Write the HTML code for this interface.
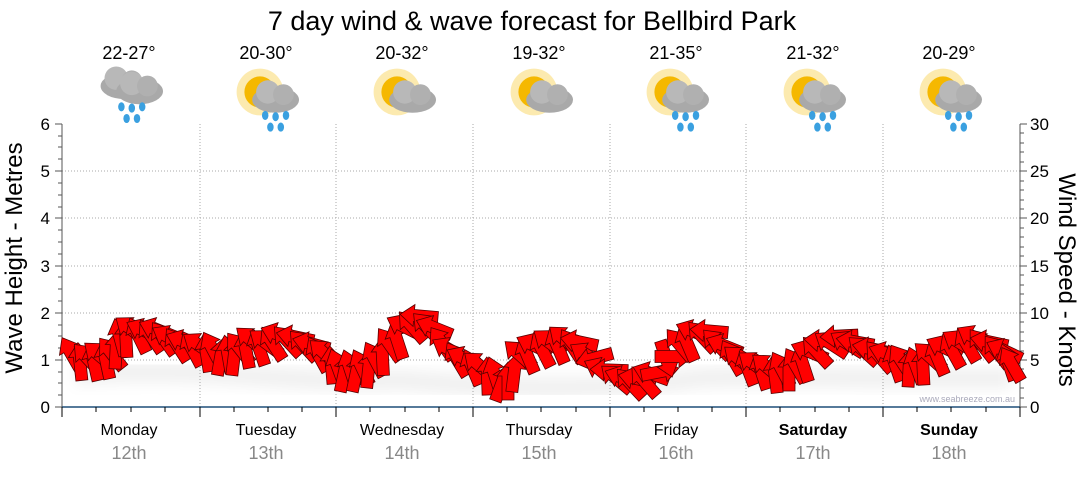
<!DOCTYPE html>
<html><head><meta charset="utf-8"><style>
body{margin:0;background:#fff;}
svg text{font-family:"Liberation Sans",sans-serif;}
</style></head><body>
<svg id="s" width="1080" height="475" viewBox="0 0 1080 475" xmlns="http://www.w3.org/2000/svg">
<defs>
<polygon id="ar" points="0,-20 11,-6 6,-6 6,18 -6,18 -6,-6 -11,-6" fill="#ff0000" stroke="#500" stroke-width="0.8"/>
<filter id="sh" x="-50%" y="-50%" width="200%" height="200%"><feGaussianBlur stdDeviation="7"/></filter>
<g id="cloud"><ellipse cx="0" cy="0" rx="18" ry="10" fill="#a9a9a9"/><circle cx="-6" cy="-6" r="9" fill="#b8b8b8"/><circle cx="6" cy="-4" r="8" fill="#b0b0b0"/></g>
<g id="sun"><circle r="18" fill="#f7c21a" opacity="0.35"/><circle r="12" fill="#f5b800"/></g>
<g id="drops" fill="#3aa0e0"><ellipse cx="-8" cy="0" rx="2.5" ry="3.5"/><ellipse cx="0" cy="1" rx="2.5" ry="3.5"/><ellipse cx="8" cy="0" rx="2.5" ry="3.5"/><ellipse cx="-4" cy="9" rx="2.5" ry="3.5"/><ellipse cx="4" cy="9" rx="2.5" ry="3.5"/></g>
</defs>
<text x="532" y="30" font-size="27" text-anchor="middle" fill="#000">7 day wind &amp; wave forecast for Bellbird Park</text>
<g font-size="18" text-anchor="middle" fill="#000">
<text x="129" y="59">22-27°</text><text x="266" y="59">20-30°</text><text x="402" y="59">20-32°</text><text x="539" y="59">19-32°</text><text x="676" y="59">21-35°</text><text x="813" y="59">21-32°</text><text x="949" y="59">20-29°</text>
</g>
<g transform="translate(124,86) scale(1.3)"><use href="#cloud"/><g transform="translate(12,4)"><use href="#cloud"/></g><g transform="translate(6,16)"><use href="#drops"/></g></g>
<g transform="translate(260,92) scale(1.3)"><use href="#sun"/><g transform="translate(12,6)"><use href="#cloud"/></g><g transform="translate(12,18)"><use href="#drops"/></g></g>
<g transform="translate(397,92) scale(1.3)"><use href="#sun"/><g transform="translate(12,6)"><use href="#cloud"/></g></g>
<g transform="translate(534,92) scale(1.3)"><use href="#sun"/><g transform="translate(12,6)"><use href="#cloud"/></g></g>
<g transform="translate(670,92) scale(1.3)"><use href="#sun"/><g transform="translate(12,6)"><use href="#cloud"/></g><g transform="translate(12,18)"><use href="#drops"/></g></g>
<g transform="translate(807,92) scale(1.3)"><use href="#sun"/><g transform="translate(12,6)"><use href="#cloud"/></g><g transform="translate(12,18)"><use href="#drops"/></g></g>
<g transform="translate(943,92) scale(1.3)"><use href="#sun"/><g transform="translate(12,6)"><use href="#cloud"/></g><g transform="translate(12,18)"><use href="#drops"/></g></g>
<g stroke="#aaa" stroke-dasharray="1,2" stroke-width="1">
<line x1="62" x2="1020" y1="360" y2="360"/><line x1="62" x2="1020" y1="313" y2="313"/><line x1="62" x2="1020" y1="266" y2="266"/><line x1="62" x2="1020" y1="218" y2="218"/><line x1="62" x2="1020" y1="171" y2="171"/>
<line x1="200" x2="200" y1="124" y2="407"/><line x1="336" x2="336" y1="124" y2="407"/><line x1="473" x2="473" y1="124" y2="407"/><line x1="610" x2="610" y1="124" y2="407"/><line x1="746" x2="746" y1="124" y2="407"/><line x1="883" x2="883" y1="124" y2="407"/>
</g>
<g stroke="#555" stroke-width="1">
<line x1="62" y1="124" x2="62" y2="407"/><line x1="1020" y1="124" x2="1020" y2="407"/>
<path d="M55,407h7M55,360h7M55,313h7M55,266h7M55,218h7M55,171h7M55,124h7"/>
<path d="M58,395h4M58,383h4M58,372h4M58,348h4M58,336h4M58,325h4M58,301h4M58,289h4M58,277h4M58,254h4M58,242h4M58,230h4M58,207h4M58,195h4M58,183h4M58,159h4M58,147h4M58,136h4"/>
<path d="M1020,407h7M1020,360h7M1020,313h7M1020,266h7M1020,218h7M1020,171h7M1020,124h7"/>
<path d="M1020,398h4M1020,388h4M1020,379h4M1020,369h4M1020,351h4M1020,341h4M1020,332h4M1020,322h4M1020,304h4M1020,294h4M1020,285h4M1020,275h4M1020,256h4M1020,247h4M1020,237h4M1020,228h4M1020,209h4M1020,200h4M1020,190h4M1020,181h4M1020,162h4M1020,152h4M1020,143h4M1020,133h4"/>
</g>
<line x1="62" y1="407" x2="1020" y2="407" stroke="#1f4e79" stroke-width="1.5"/>
<g stroke="#000" stroke-width="1">
<path d="M62,407v10M200,407v10M336,407v10M473,407v10M610,407v10M746,407v10M883,407v10M1020,407v10"/>
<path d="M96,407v5M131,407v5M165,407v5M234,407v5M268,407v5M302,407v5M370,407v5M405,407v5M439,407v5M507,407v5M541,407v5M576,407v5M644,407v5M678,407v5M712,407v5M780,407v5M815,407v5M849,407v5M917,407v5M951,407v5M986,407v5"/>
</g>
<g font-size="17" fill="#000" text-anchor="end">
<text x="50" y="413">0</text><text x="50" y="366">1</text><text x="50" y="319">2</text><text x="50" y="272">3</text><text x="50" y="224">4</text><text x="50" y="177">5</text><text x="50" y="130">6</text>
</g>
<g font-size="17" fill="#000">
<text x="1030" y="413">0</text><text x="1030" y="366">5</text><text x="1030" y="319">10</text><text x="1030" y="272">15</text><text x="1030" y="224">20</text><text x="1030" y="177">25</text><text x="1030" y="130">30</text>
</g>
<text transform="translate(22,258) rotate(-90)" font-size="24" text-anchor="middle">Wave Height - Metres</text>
<text transform="translate(1059,280) rotate(90)" font-size="24" text-anchor="middle">Wind Speed - Knots</text>
<g font-size="16" text-anchor="middle" fill="#000">
<text x="129" y="435">Monday</text><text x="266" y="435">Tuesday</text><text x="402" y="435">Wednesday</text><text x="539" y="435">Thursday</text><text x="676" y="435">Friday</text><text x="813" y="435" font-weight="bold">Saturday</text><text x="949" y="435" font-weight="bold">Sunday</text>
</g>
<g font-size="18" text-anchor="middle" fill="#888">
<text x="129" y="459">12th</text><text x="266" y="459">13th</text><text x="402" y="459">14th</text><text x="539" y="459">15th</text><text x="676" y="459">16th</text><text x="813" y="459">17th</text><text x="949" y="459">18th</text>
</g>
<text x="1015" y="402" font-size="9" fill="#aab" text-anchor="end">www.seabreeze.com.au</text>
<path d="M75,375 C200,365 300,385 400,380 C500,388 600,392 700,378 C800,375 900,380 1010,378" stroke="#000" stroke-opacity="0.06" stroke-width="20" fill="none" filter="url(#sh)"/>
<g id="arrows"></g>
</svg>
<script>
var k=[[72,355,-30],[88,362,-25],[100,360,-25],[112,356,-30],[120,338,-15],[132,333,-35],[145,335,-40],[158,332,-60],[170,338,-60],[185,345,-50],[200,350,-30],[213,352,-20],[228,355,-10],[240,352,-20],[252,345,-25],[266,345,-45],[280,335,-70],[296,340,-60],[312,348,-50],[325,356,-40],[338,368,-20],[350,372,0],[362,372,0],[375,362,-20],[390,345,-35],[405,330,-45],[420,320,-60],[435,330,-60],[450,350,-60],[465,362,-45],[480,370,-25],[495,378,-10],[508,382,0],[520,358,-30],[535,350,-40],[550,345,-45],[565,340,-50],[580,345,-60],[595,362,-80],[610,372,-80],[624,378,-70],[638,382,-60],[652,378,-45],[666,360,170],[680,345,-40],[695,335,-50],[710,335,-60],[725,348,-60],[740,360,-50],[755,368,-35],[768,372,-25],[782,372,-20],[796,366,-30],[810,355,-50],[824,345,-60],[840,338,-85],[856,342,-80],[872,352,-60],[888,358,-45],[902,364,-25],[916,366,-20],[930,360,-30],[945,352,-40],[960,345,-50],[975,338,-60],[990,345,-60],[1005,355,-40],[1012,365,-30]];
var J=[0,22,-18,12,-25,16,-8,25],Y=[0,4,-3,2,-4,3,-2,4];
var g=document.getElementById('arrows'),out='',n=0;
for(var i=0;i<k.length-1;i++){for(var t=0;t<2;t++){var f=t/2,a=k[i],b=k[i+1];
var x=a[0]+(b[0]-a[0])*f,y=a[1]+(b[1]-a[1])*f+Y[n%8],r=a[2]+(b[2]-a[2])*f+J[n%8];n++;
out+='<use href="#ar" transform="translate('+x.toFixed(1)+','+y.toFixed(1)+') rotate('+r.toFixed(0)+')"/>';}}
var l=k[k.length-1];out+='<use href="#ar" transform="translate('+l[0]+','+l[1]+') rotate('+l[2]+')"/>';
g.innerHTML=out;
</script>
</body></html>
